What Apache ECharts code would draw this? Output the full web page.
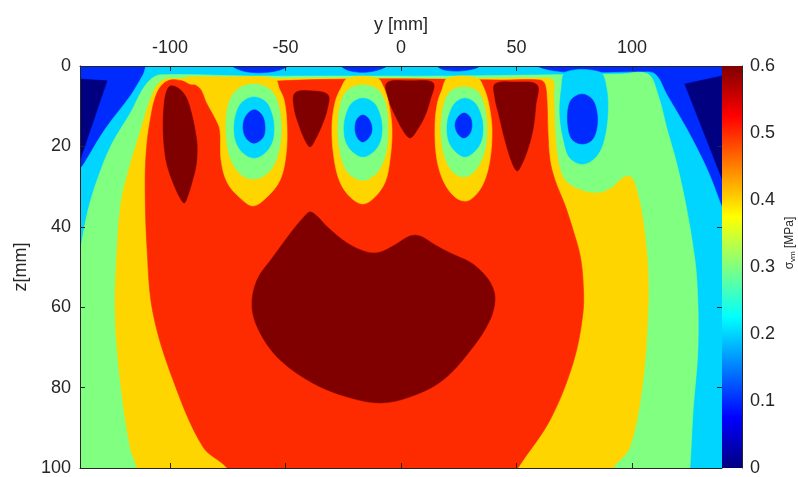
<!DOCTYPE html>
<html>
<head>
<meta charset="utf-8">
<script src="https://cdn.jsdelivr.net/npm/echarts@6/dist/echarts.min.js"></script>
<style>
  html, body { margin: 0; padding: 0; background: #ffffff; }
  #chart { width: 798px; height: 477px; }
</style>
</head>
<body>
<div id="chart"></div>
<script>
// Section extent (mm) and tick positions
const yRange = [-139, 139];
const zRange = [0, 100];
const yTicks = [-100, -50, 0, 50, 100];
const zTicks = [0, 20, 40, 60, 80, 100];

// Von Mises stress scale (MPa) and colour-bar ticks
const stressRange = [0, 0.6];
const stressTicks = [0, 0.1, 0.2, 0.3, 0.4, 0.5, 0.6];

// Filled contour regions: outlines as [y, z] in mm.
// Each region carries the lower bound of its contour band (MPa).
const fieldBase = [[-145, -3], [145, -3], [145, 103], [-145, 103]];
const cornerLeft = [[-145, 3.0], [-127.3, 3.7], [-145, 33.5]];
const cornerRight = [[122.9, 4.5], [145, 1.7], [145, 36.8]];
const cyanBand = [[-145, 103], [-145, 31.6], [-136.8, 23.9], [-128.1, 15.7], [-116.9, 7.2], [-111.7, 2.2], [-108.7, -1],
  [55.8, -1.5], [58.9, 0.2], [68.8, 1.5], [86.1, 1.7], [103.5, 1.5], [110, 2.0], [115.2, 7.2], [123.8, 15.7],
  [132.5, 25.6], [138.1, 33.8], [145, 44.5], [145, 103]];
const crest1 = [[-74.9, -1.5], [-48.1, -1.5], [-49.4, 0.2], [-56.7, 1.5], [-66.2, 1.5], [-72.7, 0.2]];
const crest2 = [[-27.3, -1.5], [-4.8, -1.5], [-6.5, 0.2], [-14.3, 1.5], [-22.1, 1.2], [-26, 0]];
const crest3 = [[14.7, -1.5], [35.5, -1.5], [33.8, 0.2], [26.4, 1.2], [19, 1], [15.6, 0]];
const greenBand = [[-145, 103], [-145, 62], [-139.8, 48.8], [-138.1, 43.3], [-135.5, 35.8], [-131.6, 28.4], [-125.5, 19.7],
  [-116.9, 11.4], [-112.6, 6.5], [-108.7, 3.5], [-104.3, 2.2], [-65.4, 2.5], [-22.1, 2.5], [21.2, 2.5], [64.5, 2.2],
  [94.8, 2.0], [106.9, 2.0], [111.3, 7.2], [115.2, 15.7], [119, 23.4], [122.5, 32.1], [126, 43.3], [128.1, 53.2],
  [128.6, 69.9], [126.4, 86.3], [125.1, 100], [124.2, 103]];
const yellowBand = [[-113.4, 103], [-114.3, 100], [-117.3, 94.8], [-121.6, 78.1], [-123.8, 61.4], [-122.9, 45], [-121.2, 33.8],
  [-118.2, 26.4], [-112.6, 15.7], [-108.7, 8.5], [-105.2, 4.5], [-100.9, 3.2], [-65.4, 3.2], [-22.1, 3], [21.2, 3.2],
  [60.2, 3], [65.8, 3.5], [66.2, 7.2], [66.7, 15.9], [68, 23.4], [71, 28.4], [77.5, 30.8], [85.3, 31.6], [91.3, 30.3],
  [94.8, 28.4], [97.8, 27.4], [100.4, 28.1], [102.2, 31.3], [103.9, 35.3], [105.6, 42], [106.9, 50.7], [106.9, 61.4],
  [104.8, 78.1], [99.1, 94.8], [91.8, 100], [89.6, 103]];
const redBody = [[-74, 103], [-75.3, 100], [-85.7, 94.8], [-98.7, 78.1], [-107.4, 61.4], [-110, 45], [-110.8, 28.4],
  [-110, 19.2], [-108.2, 12.2], [-106.5, 8], [-103.9, 5], [-100, 3.5], [-94.8, 3.7], [-90.5, 4.7], [-43.7, 3.5],
  [-0.4, 3.2], [42.9, 3.5], [60.2, 3.5], [62.3, 4.5], [63.2, 8.5], [63.6, 15.9], [64.5, 23.4], [66.7, 28.4], [71, 34.6],
  [74.5, 40.8], [77.5, 47], [78.8, 53.2], [78.8, 61.4], [74.5, 73.9], [64.5, 88.1], [50.6, 100], [48.1, 103]];
const rim1 = [[-93.5, 3], [-87, 5.5], [-84, 9.2], [-80.5, 12.9], [-78.4, 15.9], [-77.9, 23.4], [-75.3, 28.9], [-69.7, 32.8],
  [-64.1, 34.8], [-58.4, 32.8], [-52.4, 28.4], [-49.8, 22.1], [-49.4, 14.7], [-50.6, 8.5], [-52.8, 5.5], [-54.1, 3.5],
  [-58.9, 2.7], [-74, 2.7], [-87, 2.7]];
const rim2 = [[-22.9, 3], [-10.4, 3], [-7.4, 5.5], [-5.2, 9.7], [-3.9, 15.9], [-4.8, 23.4], [-6.9, 28.9], [-11.7, 32.8],
  [-16.5, 34.3], [-21.6, 32.8], [-26.4, 28.9], [-29, 22.9], [-29.9, 15.4], [-28.6, 9.2], [-26, 5.5]];
const rim3 = [[20.3, 3], [32.9, 3], [35.9, 5.5], [38.1, 9.7], [39.4, 15.9], [38.5, 23.4], [35.9, 28.9], [32, 32.3],
  [28.1, 33.6], [23.4, 32.6], [18.6, 28.9], [15.6, 23.4], [14.7, 15.9], [15.6, 9.7], [17.7, 6]];
const halo1 = [[-64.1, 4.5], [-57.6, 5.5], [-53.7, 8.5], [-51.9, 14.7], [-52.8, 20.9], [-55.8, 25.4], [-60.2, 27.6],
  [-64.1, 28.1], [-68.4, 27.4], [-72.3, 24.9], [-74.9, 20.9], [-75.8, 14.7], [-74.5, 9], [-70.6, 5.7]];
const halo2 = [[-16.5, 4.7], [-10.4, 5.7], [-6.9, 9], [-5.6, 15.2], [-6.5, 21.4], [-9.5, 25.9], [-13.4, 27.9],
  [-16.5, 28.4], [-19.9, 27.9], [-23.8, 25.9], [-26.4, 21.4], [-27.3, 15.2], [-26, 9], [-22.5, 5.7]];
const halo3 = [[27.3, 5.2], [32.9, 6.2], [35.9, 9.5], [37.2, 15.2], [36.4, 20.9], [33.3, 25.1], [29.9, 27.1],
  [27.3, 27.6], [24.2, 27.1], [20.8, 25.1], [18.2, 20.9], [17.3, 15.2], [18.6, 9.5], [21.6, 6.2]];
const ring1 = [[-63.6, 7.7], [-58.4, 9], [-55.8, 12.2], [-55, 15.4], [-55.8, 18.9], [-58.9, 21.6], [-63.6, 22.9],
  [-68.4, 21.6], [-71.4, 18.9], [-72.3, 15.4], [-71.4, 11.9], [-68.8, 9]];
const ring2 = [[-16.5, 8], [-11.7, 9.2], [-9.1, 12.2], [-8.2, 15.4], [-9.1, 18.9], [-12.1, 21.4], [-16.5, 22.6],
  [-20.8, 21.4], [-23.8, 18.9], [-24.7, 15.4], [-23.8, 12.2], [-21.2, 9.2]];
const ring3 = [[27.7, 8], [32, 9.2], [34.6, 12.2], [35.5, 15.4], [34.6, 18.9], [31.6, 21.4], [27.7, 22.6],
  [23.8, 21.4], [20.8, 18.9], [19.9, 15.4], [20.8, 12.2], [23.4, 9.2]];
const ring4 = [[71.4, 1.5], [86.1, 1.5], [88.7, 4.7], [89.6, 10.9], [87.9, 18.4], [84.4, 22.6], [78.8, 24.4],
  [73.2, 22.9], [70.6, 18.9], [68.8, 12.2], [69.5, 5.5]];
const core1 = [[-63.6, 10.9], [-60.2, 12.2], [-58.9, 15], [-59.7, 17.7], [-63.6, 19.2], [-67.1, 17.9], [-68.4, 15.2], [-67.1, 12.4]];
const core2 = [[-16.5, 12.2], [-13.9, 13.2], [-12.6, 15.4], [-13.4, 17.4], [-16.5, 18.9], [-19, 17.7], [-19.9, 15.4], [-19, 13.2]];
const core3 = [[27.3, 11.7], [29.9, 12.7], [30.7, 14.7], [29.9, 16.7], [27.3, 17.9], [24.7, 16.9], [23.4, 14.7], [24.7, 12.7]];
const core4 = [[78.4, 7], [82.7, 8.2], [84.8, 11.4], [84.8, 15.4], [82.7, 18.4], [78.4, 19.4], [74, 18.2], [72.3, 14.9], [72.3, 10.9], [74, 8.2]];
const peakLeft = [[-100, 5], [-96.5, 5.5], [-93.1, 7.7], [-90.9, 11.4], [-89.2, 15.9], [-88.3, 19.7], [-88.7, 24.6],
  [-90.5, 28.9], [-92.6, 32.8], [-93.9, 34.1], [-95.7, 32.8], [-98.3, 29.6], [-101.3, 24.6], [-102.6, 19.7],
  [-103, 14.7], [-102.6, 9.7], [-101.7, 6.7]];
const peakA = [[-45.9, 6.7], [-38.5, 6.2], [-31.6, 7.2], [-32, 10.9], [-34.2, 14.7], [-37.2, 18.4], [-39.4, 20.1],
  [-41.6, 18.4], [-44.2, 14.7], [-46.3, 10.4]];
const peakB = [[-6.1, 4.2], [3.9, 3.7], [13.9, 4.2], [12.6, 8.5], [10, 12.9], [6.1, 16.7], [3.9, 17.9], [1.3, 16.4],
  [-2.6, 12.2], [-5.2, 8.5]];
const peakC = [[40.7, 4.5], [49.4, 4], [58.9, 4.7], [58.4, 9.7], [57.1, 15.9], [54.5, 21.4], [51.5, 25.4], [50.2, 26.1],
  [48.1, 24.1], [45, 18.4], [42.4, 12.2], [40.7, 8]];
const peakDeep = [[-39.4, 36.3], [-35.9, 37.6], [-32, 40], [-23.4, 44], [-14.7, 46.3], [-9.1, 46.3], [-2.6, 44.5],
  [3.9, 42.3], [8.2, 42.3], [14.7, 44.5], [21.2, 46.5], [29.9, 48.8], [35.5, 51.5], [39.4, 54.7], [40.7, 58.2],
  [38.5, 63.2], [31.2, 69.9], [18.2, 78.1], [3.9, 82.3], [-9.1, 83.8], [-23.4, 82.3], [-38.1, 78.9], [-52.4, 73.1],
  [-61, 66.4], [-64.5, 59.9], [-62.3, 53.2], [-55.4, 47.5], [-46.8, 40.8], [-42.4, 37.8]];

// Band level of each region, painted in this order (later regions lie on top)
const regions = [
  [0.1, fieldBase], [0.0, cornerLeft], [0.0, cornerRight], [0.2, cyanBand],
  [0.1, crest1], [0.1, crest2], [0.1, crest3],
  [0.3, greenBand], [0.4, yellowBand], [0.5, redBody],
  [0.4, rim1], [0.4, rim2], [0.4, rim3],
  [0.3, halo1], [0.3, halo2], [0.3, halo3],
  [0.2, ring1], [0.2, ring2], [0.2, ring3], [0.2, ring4],
  [0.1, core1], [0.1, core2], [0.1, core3], [0.1, core4],
  [0.6, peakLeft], [0.6, peakA], [0.6, peakB], [0.6, peakC], [0.6, peakDeep]
];
const straightEdged = new Set([fieldBase, cornerLeft, cornerRight]);

// Jet colour map, evenly spaced stops
const jet = ['#000080', '#0000ff', '#0080ff', '#00ffff', '#80ff80', '#ffff00', '#ff8000', '#ff0000', '#800000'];

const FONT = "'Liberation Sans', Arial, sans-serif";
const INK = '#262626';
const textStyle = { color: INK, fontFamily: FONT, fontSize: 18 };

const chart = echarts.init(document.getElementById('chart'), null, { renderer: 'canvas' });

chart.setOption({
  animation: false,
  backgroundColor: '#ffffff',
  grid: [
    { left: 80, right: 76, top: 66, bottom: 9 },
    { left: 722, width: 23, top: 66, bottom: 9 }
  ],
  xAxis: [
    {
      gridIndex: 0, type: 'value', position: 'top', min: yRange[0], max: yRange[1], z: 5,
      name: 'y [mm]', nameLocation: 'middle', nameGap: 31, nameTextStyle: textStyle,
      axisLine: { show: true, onZero: false, lineStyle: { color: INK, width: 1 } },
      axisTick: { show: true, inside: true, length: 5, customValues: yTicks, lineStyle: { color: INK } },
      axisLabel: { show: true, customValues: yTicks, margin: 9, ...textStyle },
      splitLine: { show: false }
    },
    {
      gridIndex: 0, type: 'value', position: 'bottom', min: yRange[0], max: yRange[1], z: 5,
      axisLine: { show: true, onZero: false, lineStyle: { color: INK, width: 1 } },
      axisTick: { show: true, inside: true, length: 5, customValues: yTicks, lineStyle: { color: INK } },
      axisLabel: { show: false },
      splitLine: { show: false }
    },
    { gridIndex: 1, type: 'value', min: 0, max: 1, show: false }
  ],
  yAxis: [
    {
      gridIndex: 0, type: 'value', inverse: true, position: 'left', min: zRange[0], max: zRange[1], interval: 20, z: 5,
      name: 'z[mm]', nameLocation: 'middle', nameGap: 44, nameRotate: 90, nameTextStyle: textStyle,
      axisLine: { show: true, onZero: false, lineStyle: { color: INK, width: 1 } },
      axisTick: { show: true, inside: true, length: 5, lineStyle: { color: INK } },
      axisLabel: { show: true, margin: 9, ...textStyle },
      splitLine: { show: false }
    },
    {
      gridIndex: 0, type: 'value', inverse: true, position: 'right', min: zRange[0], max: zRange[1], interval: 20, z: 5,
      axisLine: { show: false, onZero: false },
      axisTick: { show: true, inside: true, length: 5, lineStyle: { color: INK } },
      axisLabel: { show: false },
      splitLine: { show: false }
    },
    {
      gridIndex: 1, type: 'value', position: 'right', min: stressRange[0], max: stressRange[1], interval: 0.1, z: 5,
      name: '{s|σ}{sub|vm} {s|[MPa]}', nameLocation: 'middle', nameGap: 41, nameRotate: 90,
      nameTextStyle: {
        color: INK, fontFamily: FONT, fontSize: 12, padding: [0, 0, 0, 48],
        rich: {
          s: { fontSize: 12, fontFamily: FONT, color: INK },
          sub: { fontSize: 8, fontFamily: FONT, color: INK, padding: [6, 0, 0, 0] }
        }
      },
      axisLine: { show: true, onZero: false, lineStyle: { color: INK, width: 1 } },
      axisTick: { show: false },
      axisLabel: {
        show: true, margin: 8, ...textStyle,
        formatter: v => (v === 0 ? '0' : v.toFixed(1))
      },
      splitLine: { show: false }
    }
  ],
  visualMap: {
    type: 'continuous', show: false, seriesIndex: 0, dimension: 1,
    min: stressRange[0], max: stressRange[1], inRange: { color: jet }
  },
  series: [
    {
      type: 'custom', xAxisIndex: 0, yAxisIndex: 0, silent: true, clip: true,
      data: regions.map((r, i) => [i, r[0]]),
      encode: { x: -1, y: -1 },
      renderItem: function (params, api) {
        const region = regions[api.value(0)];
        const pts = region[1].map(p => api.coord(p));
        const color = api.visual('color');
        return {
          type: 'polygon',
          shape: { points: pts, smooth: straightEdged.has(region[1]) ? 0 : 0.35 },
          style: { fill: color, stroke: color, lineWidth: 0.6 }
        };
      }
    },
    {
      type: 'custom', xAxisIndex: 2, yAxisIndex: 2, silent: true,
      data: [[0, stressRange[1]]],
      renderItem: function (params, api) {
        const lo = api.coord([0, stressRange[0]]);
        const hi = api.coord([1, stressRange[1]]);
        return {
          type: 'rect',
          shape: { x: lo[0], y: hi[1], width: hi[0] - lo[0], height: lo[1] - hi[1] },
          style: {
            fill: new echarts.graphic.LinearGradient(0, 1, 0, 0,
              jet.map((c, i) => ({ offset: i / (jet.length - 1), color: c })))
          }
        };
      }
    }
  ]
});
</script>
</body>
</html>
